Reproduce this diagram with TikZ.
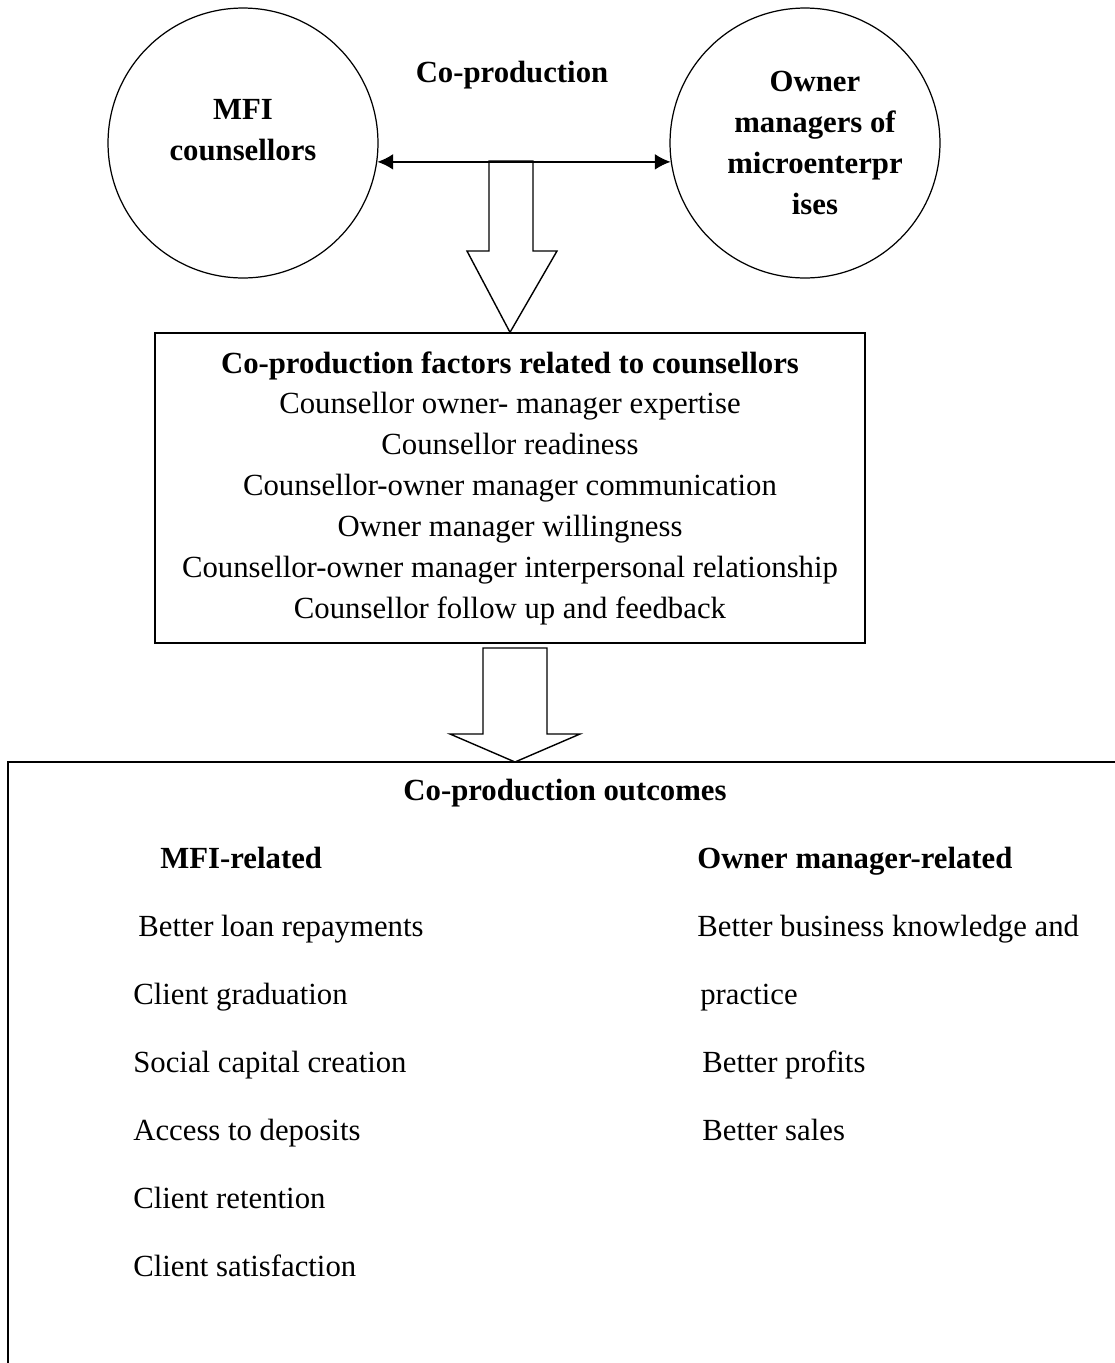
\documentclass[tikz,border=0pt]{standalone}
\usepackage{fontspec}
\setmainfont{Liberation Serif}
\usetikzlibrary{positioning,arrows.meta}

\begin{document}
\begin{tikzpicture}[x=0.02cm,y=-0.02cm,>={Latex[length=9pt,width=9pt]}]
\useasboundingbox (0,0) rectangle (1115,1363);
\clip (0,0) rectangle (1115,1363);
\tikzstyle{every node}=[font=\fontsize{17.5}{23.25}\selectfont, inner sep=0pt];
\tikzstyle{party}=[draw,circle,minimum size=5.4cm,line width=0.7pt];
\tikzstyle{hd}=[font=\fontsize{17.5}{23.25}\selectfont\bfseries];
\tikzstyle{item}=[anchor=base west];
\tikzstyle{blockarrow}=[draw,line width=0.8pt,fill=white,line join=miter];

% parties and co-production
\node[party] (mfi) at (243,143) {};
\node[party] (own) at (805,143) {};
\node[hd,align=center] (mfitxt) at (243,130) {MFI\\counsellors};
\node[hd,align=center] (owntxt) at (815,143) {Owner\\managers of\\microenterpr\\ises};
\node[hd] (coprod) at (512,75) {Co-production};

% factors box
\node[draw,line width=0.8pt,minimum width=14.2cm,minimum height=6.2cm,align=center] (factors) at (510,488)
  {\textbf{Co-production factors related to counsellors}\\
   Counsellor owner- manager expertise\\
   Counsellor readiness\\
   Counsellor-owner manager communication\\
   Owner manager willingness\\
   Counsellor-owner manager interpersonal relationship\\
   Counsellor follow up and feedback};

\draw[blockarrow] (489,161) -- (489,251) -- (467,251) -- (factors.north) -- (557,251) -- (533,251) -- (533,161) -- cycle;
\draw[<->,line width=1.2pt] (mfi.-8) -- (own.188);

% outcomes box
\coordinate (o1) at (8,1400);
\coordinate (o2) at (8,762);
\coordinate (o3) at (1130,762);
\draw[line width=0.8pt] (o1) -- (o2) -- (o3);
\draw[blockarrow] (483,648) -- (483,734) -- (450,734) -- (515,762) -- (580,734) -- (547,734) -- (547,648) -- cycle;

\node[hd] (outc) at (565,793) {Co-production outcomes};
\node[hd,item] (mfirel) at (160,868) {MFI-related};
\node[hd,item] (ownrel) at (697,868) {Owner manager-related};

\node[item] (m1) at (138,936) {Better loan repayments};
\node[item] (m2) at (133,1004) {Client graduation};
\node[item] (m3) at (133,1072) {Social capital creation};
\node[item] (m4) at (133,1140) {Access to deposits};
\node[item] (m5) at (133,1208) {Client retention};
\node[item] (m6) at (133,1276) {Client satisfaction};

\node[item] (w1) at (697,936) {Better business knowledge and};
\node[item] (w2) at (700,1004) {practice};
\node[item] (w3) at (702,1072) {Better profits};
\node[item] (w4) at (702,1140) {Better sales};
\end{tikzpicture}
\end{document}
